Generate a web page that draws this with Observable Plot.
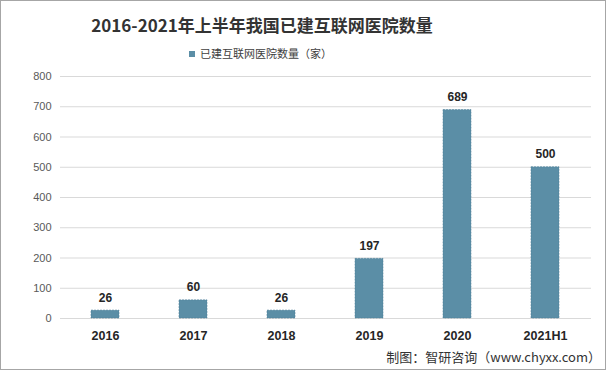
<!DOCTYPE html>
<html><head><meta charset="utf-8">
<script src="https://cdn.jsdelivr.net/npm/d3@7"></script>
<script src="https://cdn.jsdelivr.net/npm/@observablehq/plot@0.6"></script>
<style>
html,body{margin:0;padding:0;background:#fff;}
#wrap{position:relative;width:606px;height:370px;box-sizing:border-box;border:1px solid #a6a6a6;overflow:hidden;font-family:"Noto Sans CJK SC","Noto Sans",sans-serif;}
#title{position:absolute;left:0;width:522px;top:10px;text-align:center;font-size:17px;font-weight:bold;color:#333;line-height:28px;}
#legend{position:absolute;left:188px;top:44px;font-size:11px;color:#404040;line-height:16px;white-space:nowrap;}
#legend span.sw{display:inline-block;width:6px;height:6px;background:#5b8ea6;margin-right:5px;vertical-align:1px;}
#chart{position:absolute;left:0;top:61px;}
#caption{position:absolute;right:4px;top:347px;font-size:13px;color:#333;line-height:18px;white-space:nowrap;}
</style></head>
<body>
<div id="wrap">
  <div id="title">2016-2021年上半年我国已建互联网医院数量</div>
  <div id="legend"><span class="sw"></span>已建互联网医院数量（家）</div>
  <div id="chart"></div>
  <div id="caption">制图：智研咨询（www.chyxx.com）</div>
</div>
<script>
const categories = ["2016", "2017", "2018", "2019", "2020", "2021H1"];
const values = [26, 60, 26, 197, 689, 500];
const yTicks = [0, 100, 200, 300, 400, 500, 600, 700, 800];

const data = categories.map((c, i) => ({cat: c, v: values[i]}));
const color = "#5b8ea6";

const plot = Plot.plot({
  width: 604,
  height: 287,
  marginLeft: 59,
  marginRight: 14,
  marginTop: 14,
  marginBottom: 31,
  style: {fontFamily: "'Liberation Sans', Arial, sans-serif", background: "transparent"},
  x: {domain: categories, paddingInner: 0.68, paddingOuter: 0.34, align: 0.5, label: null},
  y: {domain: [0, 800], ticks: yTicks, label: null},
  marks: [
    Plot.gridY(yTicks, {stroke: "#d9d9d9", strokeOpacity: 1, strokeWidth: 1}),
    Plot.axisY({ticks: yTicks, tickSize: 0, tickPadding: 9, fontSize: 11, color: "#595959", label: null}),
    Plot.axisX({tickSize: 0, tickPadding: 13, fontSize: 12.5, fontWeight: "bold", color: "#262626", label: null}),
    Plot.barY(data, {x: "cat", y: "v", fill: color, stroke: "#4f8099", strokeWidth: 0.6, strokeDasharray: "2,1"}),
    Plot.text(data, {x: "cat", y: "v", text: d => String(d.v), dy: -9, lineAnchor: "bottom", fontSize: 12, fontWeight: "bold", fill: "#262626"})
  ]
});
document.getElementById("chart").appendChild(plot);
</script>
</body></html>
